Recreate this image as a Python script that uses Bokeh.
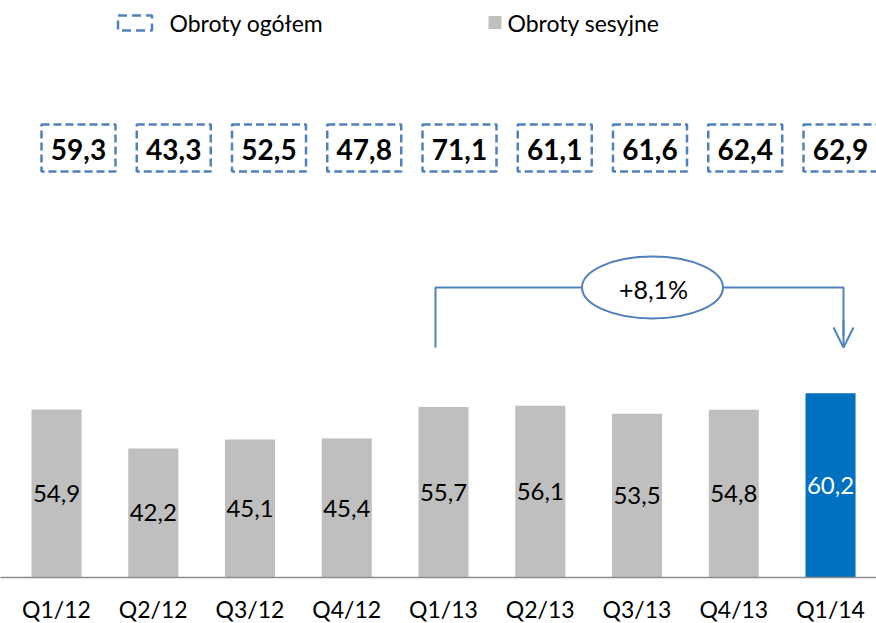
from bokeh.plotting import figure
from bokeh.models import Range1d, FixedTicker, Arrow, OpenHead
from bokeh.core.properties import value
from bokeh.embed import file_html
from bokeh.resources import INLINE

# ---- data ----
quarters = ["Q1/12", "Q2/12", "Q3/12", "Q4/12", "Q1/13", "Q2/13", "Q3/13", "Q4/13", "Q1/14"]
session_turnover = [54.9, 42.2, 45.1, 45.4, 55.7, 56.1, 53.5, 54.8, 60.2]
total_turnover = [59.3, 43.3, 52.5, 47.8, 71.1, 61.1, 61.6, 62.4, 62.9]
legend_labels = ["Obroty ogółem", "Obroty sesyjne"]
growth_label = "+8,1%"


def pl(v):
    return f"{v:.1f}".replace(".", ",")


FONT = "Lato"
LINE_BLUE = "#4F81BD"
BAR_GREY = "#BFBFBF"
BAR_BLUE = "#0070C0"

idx = list(range(len(quarters)))
last = len(quarters) - 1

p = figure(frame_width=876, frame_height=577, min_border=0,
           x_range=Range1d(-0.579, 8.475), y_range=Range1d(0, 188.6),
           y_axis_location=None, toolbar_location=None, output_backend="svg",
           outline_line_color=None)
p.extra_x_ranges = {"px": Range1d(0, 876)}
p.extra_y_ranges = {"px": Range1d(577, 0)}
p.xgrid.visible = False
p.ygrid.visible = False

# x axis with quarter labels
ax = p.xaxis[0]
ax.ticker = FixedTicker(ticks=idx)
ax.major_label_overrides = {i: q for i, q in zip(idx, quarters)}
ax.major_tick_line_color = None
ax.minor_tick_line_color = None
ax.axis_line_color = "#8C8C8C"
ax.axis_line_width = 1.5
ax.major_label_text_font = FONT
ax.major_label_text_font_size = "23px"
ax.major_label_text_color = "black"
ax.major_label_standoff = 11

# bars
colors = [BAR_BLUE if i == last else BAR_GREY for i in idx]
label_colors = ["white" if i == last else "black" for i in idx]
p.vbar(x=idx, top=session_turnover, bottom=0, width=0.517, fill_color=colors, line_color=None)
p.text(x=idx, y=[v / 2 for v in session_turnover], text=[pl(v) for v in session_turnover],
       text_align="center", text_baseline="middle", text_font=value(FONT),
       text_font_size="24px", text_color=label_colors)

# dashed boxes with total turnover
box_x = [78 + 95.25 * i for i in idx]
p.rect(x=box_x, y=[147.5] * len(idx), width=74, height=47, fill_color=None,
       line_color=LINE_BLUE, line_width=2.5, line_dash="8 4",
       x_range_name="px", y_range_name="px")
p.text(x=box_x, y=[148.5] * len(idx), text=[pl(v) for v in total_turnover],
       text_align="center", text_baseline="middle", text_font=value(FONT),
       text_font_size="28px", text_font_style="bold", text_color="black",
       x_range_name="px", y_range_name="px")

# growth bracket
p.line(x=[435, 435, 843, 843], y=[347, 287, 287, 335], line_color=LINE_BLUE, line_width=2,
       x_range_name="px", y_range_name="px")
p.add_layout(Arrow(end=OpenHead(size=20, line_color=LINE_BLUE, line_width=2),
                   x_start=843, y_start=320, x_end=843, y_end=347,
                   line_color=LINE_BLUE, line_width=2,
                   x_range_name="px", y_range_name="px"))
p.ellipse(x=[652], y=[287], width=141, height=62, fill_color="white",
          line_color=LINE_BLUE, line_width=2, x_range_name="px", y_range_name="px")
p.text(x=[653], y=[288], text=[growth_label], text_align="center", text_baseline="middle",
       text_font=value(FONT), text_font_size="25px", text_color="black",
       x_range_name="px", y_range_name="px")

# legend
p.rect(x=[134.5], y=[22.5], width=34, height=15, fill_color=None, line_color=LINE_BLUE,
       line_width=2.5, line_dash="9 5", x_range_name="px", y_range_name="px")
p.text(x=[169], y=[22], text=[legend_labels[0]], text_align="left", text_baseline="middle",
       text_font=value(FONT), text_font_size="23px", text_color="black",
       x_range_name="px", y_range_name="px")
p.rect(x=[494.5], y=[22], width=13, height=13, fill_color=BAR_GREY, line_color=None,
       x_range_name="px", y_range_name="px")
p.text(x=[507], y=[22], text=[legend_labels[1]], text_align="left", text_baseline="middle",
       text_font=value(FONT), text_font_size="23px", text_color="black",
       x_range_name="px", y_range_name="px")

open("out.html", "w").write(file_html(p, INLINE))
